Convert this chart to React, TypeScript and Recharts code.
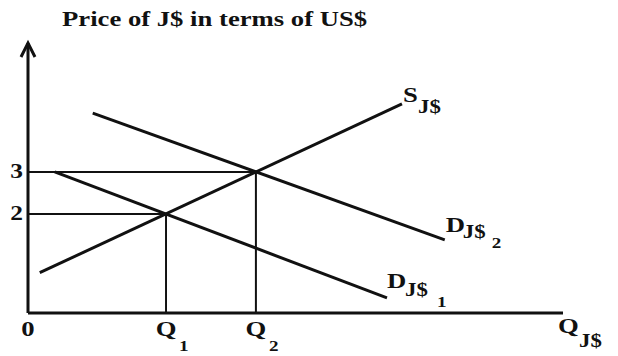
import React from "react";
import {
  ComposedChart,
  Line,
  XAxis,
  YAxis,
  ReferenceDot,
} from "recharts";

// quantity of J$ (arbitrary units, 0..100) and price of J$ in US$
const Q_MAX = 100;
const P_MIN = -0.36;
const P_MAX = 6.07;

const Q1 = 25.8;
const Q2 = 42.6;
const priceTicks = [2, 3];
const quantityTicks = [0, Q1, Q2];
const quantityTickLabels: Record<string, string[]> = {
  "0": ["0", ""],
  [String(Q1)]: ["Q", "1"],
  [String(Q2)]: ["Q", "2"],
};

const supply = [
  { q: 2.2, p: 0.6 },
  { q: 69.9, p: 4.62 },
];
const demand1 = [
  { q: 5, p: 3 },
  { q: 67.1, p: 0 },
];
const demand2 = [
  { q: 12.1, p: 4.4 },
  { q: 77.9, p: 1.38 },
];

// guide lines to the two equilibria
const guidePrice3 = [
  { q: 0, p: 3 },
  { q: Q2, p: 3 },
];
const guidePrice2 = [
  { q: 0, p: 2 },
  { q: Q1, p: 2 },
];
const guideQ1 = [
  { q: Q1, p: 2 },
  { q: Q1, p: P_MIN },
];
const guideQ2 = [
  { q: Q2, p: 3 },
  { q: Q2, p: P_MIN },
];

const INK = "#111";
const FONT = '"Liberation Serif", "Times New Roman", serif';
const SX = 1.27; // the source glyphs are stretched horizontally

function PriceTick(props: any) {
  const { x, y, payload } = props;
  return (
    <g transform={`translate(${x + 3},${y + 6.5}) scale(${SX},1)`}>
      <text textAnchor="end" fontFamily={FONT} fontWeight="bold" fontSize={20} fill={INK}>
        {payload.value}
      </text>
    </g>
  );
}

function QuantityTick(props: any) {
  const { x, y, payload } = props;
  const [main, sub] = quantityTickLabels[String(payload.value)] ?? ["", ""];
  const base = y + 15;
  return (
    <g>
      <g transform={`translate(${x},${base}) scale(${SX},1)`}>
        <text textAnchor="middle" fontFamily={FONT} fontWeight="bold" fontSize={21} fill={INK}>
          {main}
        </text>
      </g>
      {sub && (
        <g transform={`translate(${x + 13},${base + 15}) scale(${SX},1)`}>
          <text fontFamily={FONT} fontWeight="bold" fontSize={15} fill={INK}>
            {sub}
          </text>
        </g>
      )}
    </g>
  );
}

interface LabelPart {
  text: string;
  dx: number;
  dy: number;
  size: number;
}

function makeCurveLabel(parts: LabelPart[]) {
  return (props: any) => {
    const { cx, cy } = props;
    return (
      <g>
        {parts.map((part) => (
          <g
            key={part.text + part.dx}
            transform={`translate(${cx + part.dx},${cy + part.dy}) scale(${SX},1)`}
          >
            <text fontFamily={FONT} fontWeight="bold" fontSize={part.size} fill={INK}>
              {part.text}
            </text>
          </g>
        ))}
      </g>
    );
  };
}

const supplyLabel = makeCurveLabel([
  { text: "S", dx: 1, dy: -2, size: 21 },
  { text: "J$", dx: 16, dy: 9, size: 18 },
]);
const demand2Label = makeCurveLabel([
  { text: "D", dx: 1, dy: -8, size: 21 },
  { text: "J$", dx: 18, dy: -2, size: 18 },
  { text: "2", dx: 47, dy: 8, size: 15 },
]);
const demand1Label = makeCurveLabel([
  { text: "D", dx: 0, dy: -10, size: 21 },
  { text: "J$", dx: 18, dy: -2, size: 18 },
  { text: "1", dx: 50, dy: 9, size: 15 },
]);
const axisQLabel = makeCurveLabel([
  { text: "Q", dx: -5, dy: 20, size: 21 },
  { text: "J$", dx: 16, dy: 34, size: 18 },
]);

function ArrowHead(props: any) {
  const { cx, cy } = props;
  return (
    <path
      d={`M${cx - 7},${cy + 14} L${cx},${cy} L${cx + 7},${cy + 14}`}
      fill="none"
      stroke={INK}
      strokeWidth={3}
    />
  );
}

const curveProps = {
  type: "linear" as const,
  dataKey: "p",
  stroke: INK,
  dot: false,
  activeDot: false,
  isAnimationActive: false,
};

export default function App() {
  return (
    <div
      style={{
        position: "absolute",
        left: 0,
        top: 0,
        width: 618,
        height: 356,
        background: "#fff",
      }}
    >
      <div
        style={{
          position: "absolute",
          left: 62,
          top: 9,
          fontFamily: FONT,
          fontWeight: "bold",
          fontSize: 21,
          lineHeight: "21px",
          color: INK,
          whiteSpace: "nowrap",
          transform: `scaleX(${SX})`,
          transformOrigin: "left top",
        }}
      >
        Price of J$ in terms of US$
      </div>
      <ComposedChart
        width={618}
        height={356}
        margin={{ top: 43, right: 55, bottom: 0, left: 0 }}
        style={{ overflow: "visible" }}
      >
        <XAxis
          type="number"
          dataKey="q"
          domain={[0, Q_MAX]}
          ticks={quantityTicks}
          allowDataOverflow
          height={43}
          axisLine={{ stroke: INK, strokeWidth: 3 }}
          tickLine={false}
          tick={<QuantityTick />}
        />
        <YAxis
          type="number"
          dataKey="p"
          domain={[P_MIN, P_MAX]}
          ticks={priceTicks}
          allowDataOverflow
          width={28}
          axisLine={{ stroke: INK, strokeWidth: 3 }}
          tickLine={false}
          tick={<PriceTick />}
        />

        <Line {...curveProps} data={guidePrice3} strokeWidth={2} />
        <Line {...curveProps} data={guidePrice2} strokeWidth={2} />
        <Line {...curveProps} data={guideQ1} strokeWidth={2} />
        <Line {...curveProps} data={guideQ2} strokeWidth={2} />

        <Line {...curveProps} data={supply} strokeWidth={3} />
        <Line {...curveProps} data={demand1} strokeWidth={3} />
        <Line {...curveProps} data={demand2} strokeWidth={3} />

        <ReferenceDot x={0} y={P_MAX} ifOverflow="visible" shape={ArrowHead} />
        <ReferenceDot x={supply[1].q} y={supply[1].p} ifOverflow="visible" shape={supplyLabel} />
        <ReferenceDot x={demand2[1].q} y={demand2[1].p} ifOverflow="visible" shape={demand2Label} />
        <ReferenceDot x={demand1[1].q} y={demand1[1].p} ifOverflow="visible" shape={demand1Label} />
        <ReferenceDot x={Q_MAX} y={P_MIN} ifOverflow="visible" shape={axisQLabel} />
      </ComposedChart>
    </div>
  );
}
